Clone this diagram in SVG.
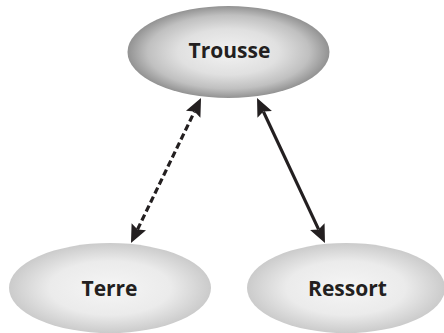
<svg xmlns="http://www.w3.org/2000/svg" width="444" height="333" viewBox="0 0 444 333">
  <style>
    .label { font-family: "Open Sans", "Liberation Sans", sans-serif; font-weight: 700; font-size: 21px; fill: #231f20; text-anchor: middle; }
    .link { fill: none; stroke: #231f20; stroke-width: 3.2; }
    .dashed { stroke-dasharray: 6.5 3.5; }
  </style>
  <defs>
    <radialGradient id="gradDark" cx="0.5" cy="0.5" r="0.5">
      <stop offset="0" stop-color="#f2f2f2"/>
      <stop offset="0.5" stop-color="#e0e0e0"/>
      <stop offset="0.8" stop-color="#c0c0c0"/>
      <stop offset="1" stop-color="#929292"/>
    </radialGradient>
    <radialGradient id="gradLight" cx="0.5" cy="0.5" r="0.5">
      <stop offset="0" stop-color="#f5f5f5"/>
      <stop offset="0.6" stop-color="#ebebeb"/>
      <stop offset="1" stop-color="#cbcbcb"/>
    </radialGradient>
    <marker id="arrow" markerUnits="userSpaceOnUse" markerWidth="22" markerHeight="20" viewBox="0 -10 20 20" refX="3" refY="0" orient="auto-start-reverse">
      <path d="M0,-8 L18,0 L0,8 L3,0 Z" fill="#231f20"/>
    </marker>
  </defs>

  <g id="node-trousse">
    <ellipse cx="228.5" cy="52" rx="101" ry="46" fill="url(#gradDark)"/>
    <text class="label" x="229.5" y="58">Trousse</text>
  </g>
  <g id="node-terre">
    <ellipse cx="110" cy="288" rx="101" ry="45" fill="url(#gradLight)"/>
    <text class="label" x="109.5" y="295.5">Terre</text>
  </g>
  <g id="node-ressort">
    <ellipse cx="346" cy="288" rx="99" ry="45" fill="url(#gradLight)"/>
    <text class="label" x="347.5" y="295.5">Ressort</text>
  </g>

  <g id="connectors">
    <line class="link dashed" x1="137.5" y1="229.5" x2="194.5" y2="111.5" marker-start="url(#arrow)" marker-end="url(#arrow)"/>
    <line class="link" x1="263.4" y1="111.6" x2="318.6" y2="229.4" marker-start="url(#arrow)" marker-end="url(#arrow)"/>
  </g>
</svg>
